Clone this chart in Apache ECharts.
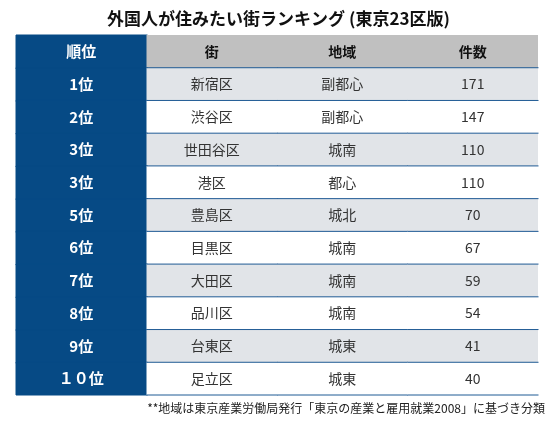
<!DOCTYPE html><html><head><meta charset="utf-8"><script src="https://cdn.jsdelivr.net/npm/echarts@6/dist/echarts.min.js"></script></head><body style="margin:0"><div id="c" style="width:557px;height:434px"></div><script>
const headers=['順位','街','地域','件数'];
const ranks=['1位','2位','3位','3位','5位','6位','7位','8位','9位','１０位'];
const towns=['新宿区','渋谷区','世田谷区','港区','豊島区','目黒区','大田区','品川区','台東区','足立区'];
const areas=['副都心','副都心','城南','都心','城北','城南','城南','城南','城東','城東'];
const counts=[171,147,110,110,70,67,59,54,41,40];
const cols=[0,1,2,3], rows=[...Array(11).keys()];
const data=[];
headers.forEach((h,c)=>data.push([c,0,h]));
for(let i=0;i<10;i++){[ranks[i],towns[i],areas[i],String(counts[i])].forEach((v,c)=>data.push([c,i+1,v]));}
const F='"Noto Sans CJK JP","Noto Sans",sans-serif';
const chart=echarts.init(document.getElementById('c'));
chart.setOption({
 title:{text:'外国人が住みたい街ランキング (東京23区版)',left:'center',top:5,textStyle:{fontSize:17,fontWeight:'bold',color:'#111',fontFamily:F}},
 graphic:[{type:'text',right:12,top:402,style:{text:'**地域は東京産業労働局発行「東京の産業と雇用就業2008」に基づき分類',fontSize:12,fill:'#222',fontFamily:F}}],
 grid:{left:16,right:19,top:35,height:360},
 xAxis:{type:'category',data:cols,show:false},
 yAxis:{type:'category',data:rows,inverse:true,show:false},
 series:[{type:'custom',data:data,renderItem:(p,api)=>{
  const c=api.value(0),r=api.value(1),t=data[p.dataIndex][2];
  const pt=api.coord([c,r]),sz=api.size([1,1]);
  const x=pt[0]-sz[0]/2,y=pt[1]-sz[1]/2;
  let fill,col,fw;
  if(c===0){fill='#064a85';col='#fff';fw='bold';}
  else if(r===0){fill='#c0c0c0';col='#111';fw='bold';}
  else{fill=(r%2===1)?'#e1e4e8':'#ffffff';col='#333';fw='normal';}
  const ch=[{type:'rect',shape:{x:x,y:y,width:sz[0]+(c<3?1:0),height:sz[1]+(r<10?1:0)},style:{fill:fill,stroke:c===0?fill:null,lineWidth:c===0?1:0}}];
  if(c>0&&r>0) ch.push({type:'line',shape:{x1:x,y1:y,x2:x+sz[0]+0.5,y2:y},style:{stroke:'#1f5a94',lineWidth:1}});
  if(c>0&&r===10) ch.push({type:'line',shape:{x1:x,y1:y+sz[1],x2:x+sz[0]+0.5,y2:y+sz[1]},style:{stroke:'#1f5a94',lineWidth:1}});
  ch.push({type:'text',style:{text:t,x:pt[0],y:pt[1],align:'center',verticalAlign:'middle',fill:col,fontSize:c===0?15:14,fontWeight:fw,fontFamily:F}});
  return {type:'group',children:ch};
 }}]
});
</script></body></html>
